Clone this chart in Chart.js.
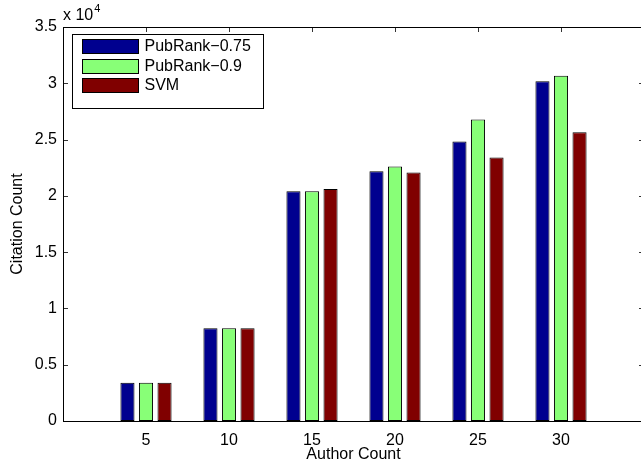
<!DOCTYPE html>
<html>
<head>
<meta charset="utf-8">
<script src="https://cdn.jsdelivr.net/npm/chart.js@4/dist/chart.umd.min.js"></script>
<style>
  html, body { margin: 0; padding: 0; background: #fff; overflow: hidden; }
  #wrap { width: 641px; height: 464px; overflow: hidden; }
  canvas { display: block; }
</style>
</head>
<body>
<div id="wrap"><canvas id="c" width="646" height="464"></canvas></div>
<script>
// Author-count groups and citation totals per ranking method
const authorCounts = [5, 10, 15, 20, 25, 30];
const pubRank075 = [3400, 8250, 20400, 22180, 24820, 30180];
const pubRank09  = [3400, 8250, 20400, 22600, 26780, 30660];
const svm        = [3400, 8250, 20600, 22070, 23400, 25650];
const seriesNames = ['PubRank\u22120.75', 'PubRank\u22120.9', 'SVM'];
const seriesColors = ['#00008f', '#88ff77', '#800000'];
const yTickValues = [0, 5000, 10000, 15000, 20000, 25000, 30000, 35000];

const FONT = '"Liberation Sans", Arial, Helvetica, sans-serif';

function toPoints(values) {
  return authorCounts.map((x, i) => ({ x: x, y: values[i] }));
}

const datasets = [pubRank075, pubRank09, svm].map((vals, i) => ({
  label: seriesNames[i],
  data: toPoints(vals),
  backgroundColor: seriesColors[i],
  borderColor: '#000',
  borderWidth: 1,
  borderSkipped: false,
  categoryPercentage: 0.67,
  barPercentage: 0.76
}));

// Inward tick marks on all four edges, drawn beneath the bars
const tickMarks = {
  id: 'tickMarks',
  beforeDatasetsDraw(chart) {
    const { ctx, chartArea: a, scales: { x, y } } = chart;
    ctx.save();
    ctx.strokeStyle = '#333';
    ctx.lineWidth = 1;
    ctx.beginPath();
    yTickValues.forEach(v => {
      const py = Math.round(y.getPixelForValue(v)) + 0.5;
      ctx.moveTo(a.left, py); ctx.lineTo(a.left + 5, py);
      ctx.moveTo(a.right, py); ctx.lineTo(a.right - 5, py);
    });
    authorCounts.forEach(v => {
      const px = Math.round(x.getPixelForValue(v)) + 0.5;
      ctx.moveTo(px, a.bottom); ctx.lineTo(px, a.bottom - 5);
      ctx.moveTo(px, a.top); ctx.lineTo(px, a.top + 5);
    });
    ctx.stroke();
    ctx.restore();
  },
  afterDatasetsDraw(chart) {
    const { ctx, chartArea: a } = chart;
    const l = Math.round(a.left) + 0.5, t = Math.round(a.top) + 0.5;
    const r = Math.round(a.right) + 0.5, b = Math.round(a.bottom) + 0.5;
    ctx.save();
    ctx.strokeStyle = '#000';
    ctx.lineWidth = 1;
    ctx.strokeRect(l, t, r - l, b - t);
    ctx.restore();
  }
};

// Boxed legend in the upper-left corner and the axis exponent label
const boxLegend = {
  id: 'boxLegend',
  afterDraw(chart) {
    const { ctx, chartArea: a } = chart;
    ctx.save();
    const bx = Math.round(a.left) + 9.5, by = Math.round(a.top) + 7.5, bw = 191, bh = 74;
    ctx.fillStyle = '#fff';
    ctx.fillRect(bx, by, bw, bh);
    ctx.strokeStyle = '#000';
    ctx.lineWidth = 1;
    ctx.strokeRect(bx, by, bw, bh);
    chart.data.datasets.forEach((ds, i) => {
      const sy = Math.round(by + 4.5 + i * 19.5);
      ctx.fillStyle = ds.backgroundColor;
      ctx.fillRect(bx + 10, sy, 56, 14);
      ctx.strokeStyle = '#000';
      ctx.strokeRect(bx + 10, sy + 0.5, 56, 14);
      ctx.fillStyle = '#000';
      ctx.font = '16px ' + FONT;
      ctx.textBaseline = 'middle';
      ctx.textAlign = 'left';
      ctx.fillText(ds.label, bx + 72, sy + 8);
    });
    // scale factor above the y axis
    ctx.fillStyle = '#000';
    ctx.textBaseline = 'alphabetic';
    ctx.font = '16px ' + FONT;
    ctx.fillText('x 10', a.left, 20);
    const w = ctx.measureText('x 10').width;
    ctx.font = '11px ' + FONT;
    ctx.fillText('4', a.left + w + 1, 12);
    ctx.restore();
  }
};

new Chart(document.getElementById('c'), {
  type: 'bar',
  data: { datasets: datasets },
  options: {
    responsive: false,
    animation: false,
    devicePixelRatio: 1,
    layout: { padding: { top: 27, right: 2, bottom: 0, left: 0 } },
    plugins: { legend: { display: false }, tooltip: { enabled: false } },
    scales: {
      x: {
        type: 'linear',
        min: 0,
        max: 35,
        offset: false,
        grid: { display: false, drawTicks: false },
        border: { display: false },
        afterBuildTicks(scale) {
          scale.ticks = [0].concat(authorCounts, [35]).map(v => ({ value: v }));
        },
        ticks: {
          color: '#000',
          font: { family: FONT, size: 16 },
          padding: 10,
          maxRotation: 0,
          autoSkip: false,
          callback: v => (authorCounts.includes(v) ? String(v) : '')
        },
        title: {
          display: true,
          text: 'Author Count',
          color: '#000',
          font: { family: FONT, size: 16 },
          padding: { top: 0, bottom: 0 }
        },
        afterFit(scale) {
          scale.height = 43;
          scale.paddingLeft = 0;
          scale.paddingRight = 0;
        }
      },
      y: {
        min: 0,
        max: 35000,
        grid: { display: false, drawTicks: false },
        border: { display: false },
        afterBuildTicks(scale) {
          scale.ticks = yTickValues.map(v => ({ value: v }));
        },
        ticks: {
          color: '#000',
          font: { family: FONT, size: 16 },
          padding: 6,
          callback: v => String(v / 10000)
        },
        title: {
          display: true,
          text: 'Citation Count',
          color: '#000',
          font: { family: FONT, size: 16 },
          padding: { top: 8, bottom: 0 }
        },
        afterFit(scale) {
          scale.width = 63;
          scale.paddingTop = 0;
          scale.paddingBottom = 0;
        }
      }
    }
  },
  plugins: [tickMarks, boxLegend]
});
</script>
</body>
</html>
